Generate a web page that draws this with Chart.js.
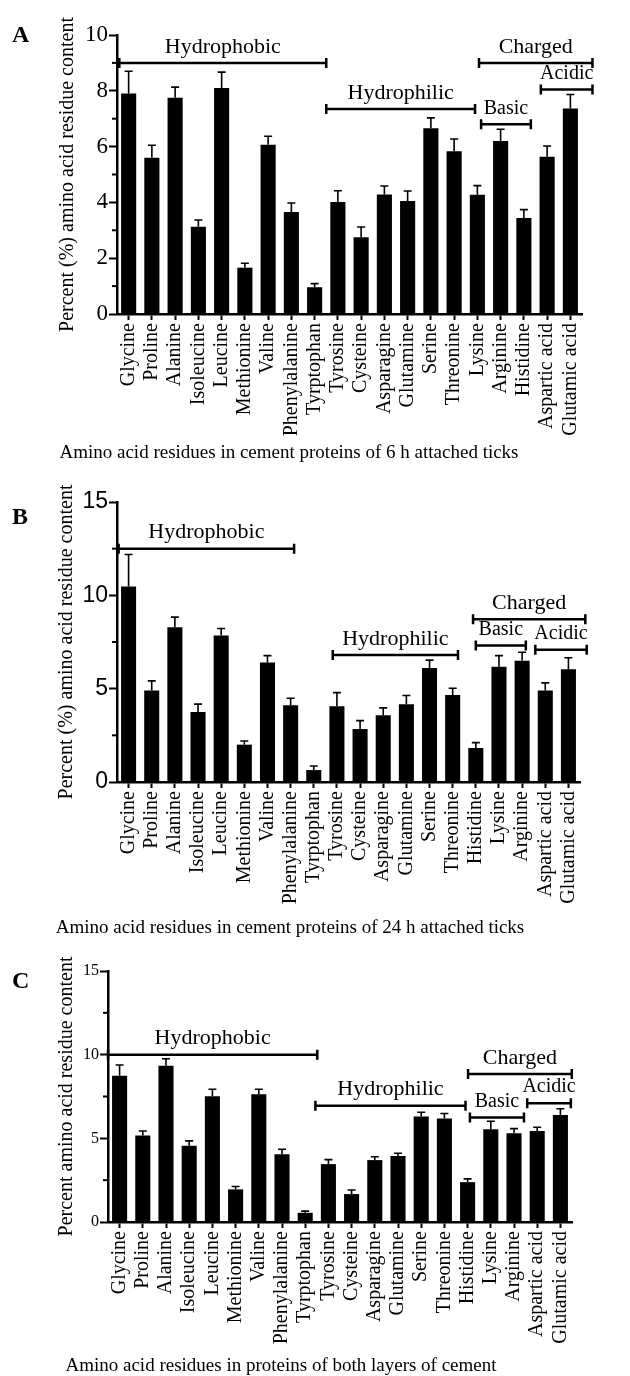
<!DOCTYPE html>
<html>
<head>
<meta charset="utf-8">
<script src="https://cdn.jsdelivr.net/npm/chart.js@4.4.1/dist/chart.umd.min.js"></script>
<style>
    body { margin: 0; background: #fff; width: 630px; height: 1376px; position: relative; overflow: hidden; }
    .panel { position: absolute; left: 0; width: 630px; }
    .letter { position: absolute; font: bold 24px "Liberation Serif", serif; line-height: 1; }
    .caption { position: absolute; font: 19px "Liberation Serif", serif; line-height: 1; white-space: nowrap; transform: translateX(-50%); }
</style>
</head>
<body>
<div class="panel" style="top:0;height:470px"><canvas id="chartA"></canvas></div>
<div class="panel" style="top:470px;height:470px"><canvas id="chartB"></canvas></div>
<div class="panel" style="top:940px;height:436px"><canvas id="chartC"></canvas></div>

<div class="letter" style="left:12px;top:22px">A</div>
<div class="letter" style="left:12px;top:504px">B</div>
<div class="letter" style="left:12px;top:968px">C</div>

<div class="caption" style="left:289px;top:442px">Amino acid residues in cement proteins of 6 h attached ticks</div>
<div class="caption" style="left:290px;top:917px">Amino acid residues in cement proteins of 24 h attached ticks</div>
<div class="caption" style="left:281px;top:1355px">Amino acid residues in proteins of both layers of cement</div>

<script>
// categories
const labelsA = ['Glycine', 'Proline', 'Alanine', 'Isoleucine', 'Leucine', 'Methionine', 'Valine',
    'Phenylalanine', 'Tyrptophan', 'Tyrosine', 'Cysteine', 'Asparagine', 'Glutamine', 'Serine',
    'Threonine', 'Lysine', 'Arginine', 'Histidine', 'Aspartic acid', 'Glutamic acid'];
const labelsBC = ['Glycine', 'Proline', 'Alanine', 'Isoleucine', 'Leucine', 'Methionine', 'Valine',
    'Phenylalanine', 'Tyrptophan', 'Tyrosine', 'Cysteine', 'Asparagine', 'Glutamine', 'Serine',
    'Threonine', 'Histidine', 'Lysine', 'Arginine', 'Aspartic acid', 'Glutamic acid'];

// A: 6 h attached ticks
const valuesA = [7.9, 5.6, 7.75, 3.13, 8.1, 1.66, 6.07, 3.66, 0.96, 4.01, 2.75, 4.28, 4.05, 6.66, 5.83, 4.27, 6.2, 3.44, 5.64, 7.37];
const errorsA = [0.8, 0.45, 0.38, 0.24, 0.57, 0.16, 0.3, 0.32, 0.13, 0.41, 0.37, 0.31, 0.36, 0.37, 0.44, 0.33, 0.42, 0.3, 0.38, 0.5];

// B: 24 h attached ticks
const valuesB = [10.47, 4.9, 8.29, 3.75, 7.85, 2.0, 6.4, 4.11, 0.64, 4.06, 2.84, 3.58, 4.17, 6.11, 4.66, 1.82, 6.18, 6.49, 4.9, 6.04];
const errorsB = [1.72, 0.52, 0.54, 0.42, 0.37, 0.2, 0.37, 0.38, 0.22, 0.73, 0.45, 0.39, 0.46, 0.42, 0.36, 0.29, 0.59, 0.46, 0.41, 0.62];

// C: both layers of cement
const valuesC = [8.74, 5.17, 9.34, 4.55, 7.51, 1.95, 7.63, 4.05, 0.55, 3.46, 1.67, 3.7, 3.94, 6.3, 6.18, 2.38, 5.55, 5.31, 5.44, 6.4];
const errorsC = [0.64, 0.27, 0.42, 0.3, 0.42, 0.17, 0.3, 0.3, 0.1, 0.27, 0.24, 0.2, 0.17, 0.26, 0.3, 0.2, 0.47, 0.27, 0.22, 0.37];

// group brackets (category index from/to, value level)
const groupNames = ['Hydrophobic', 'Hydrophilic', 'Charged', 'Basic', 'Acidic'];
const groupFromA = [-0.4, 8.5, 15.07, 15.16, 17.73];
const groupToA = [8.5, 14.9, 19.95, 17.3, 19.95];
const groupLevelA = [9.0, 7.35, 9.0, 6.8, 8.05];
const groupFromB = [-0.43, 8.82, 14.88, 15.0, 17.57];
const groupToB = [7.15, 14.23, 19.73, 17.16, 19.79];
const groupLevelB = [12.5, 6.81, 8.72, 7.31, 7.08];
const groupFromC = [-0.5, 8.44, 15.02, 15.1, 17.57];
const groupToC = [8.52, 14.91, 19.49, 17.43, 19.45];
const groupLevelC = [10.0, 6.95, 8.84, 6.24, 7.1];

const serif = '"Liberation Serif", "Times New Roman", serif';
const sans = '"Liberation Sans", Arial, sans-serif';

function makeChart(cfg) {
    const extras = {
        id: 'extras_' + cfg.id,
        afterDatasetsDraw(chart) {
            const ctx = chart.ctx;
            const xs = chart.scales.x;
            const ys = chart.scales.y;
            const meta = chart.getDatasetMeta(0);
            ctx.save();
            ctx.strokeStyle = '#000';
            ctx.fillStyle = '#000';

            // error bars (upper only)
            ctx.lineWidth = 1.6;
            cfg.errors.forEach((e, i) => {
                const bar = meta.data[i];
                const top = ys.getPixelForValue(cfg.values[i] + e);
                ctx.beginPath();
                ctx.moveTo(bar.x, bar.y);
                ctx.lineTo(bar.x, top);
                ctx.moveTo(bar.x - 4, top);
                ctx.lineTo(bar.x + 4, top);
                ctx.stroke();
            });

            // minor ticks on the y axis
            ctx.lineWidth = 2;
            for (let v = cfg.minorStep; v < cfg.max; v += cfg.minorStep) {
                if (Math.abs(v / cfg.step - Math.round(v / cfg.step)) < 1e-6) continue;
                const py = ys.getPixelForValue(v);
                ctx.beginPath();
                ctx.moveTo(xs.left, py);
                ctx.lineTo(xs.left - 5, py);
                ctx.stroke();
            }

            // group brackets
            ctx.lineWidth = 2.5;
            ctx.textAlign = 'center';
            ctx.textBaseline = 'middle';
            groupNames.forEach((name, i) => {
                const x1 = xs.getPixelForValue(cfg.from[i]);
                const x2 = xs.getPixelForValue(cfg.to[i]);
                const py = ys.getPixelForValue(cfg.level[i]);
                ctx.beginPath();
                ctx.moveTo(x1, py);
                ctx.lineTo(x2, py);
                ctx.moveTo(x1, py - 5);
                ctx.lineTo(x1, py + 5);
                ctx.moveTo(x2, py - 5);
                ctx.lineTo(x2, py + 5);
                ctx.stroke();
                const size = (name === 'Basic' || name === 'Acidic') ? 20 : 22;
                ctx.font = size + 'px ' + serif;
                ctx.fillText(name, (x1 + x2) / 2, py - 16);
            });
            ctx.restore();
        }
    };

    return new Chart(document.getElementById(cfg.id), {
        type: 'bar',
        data: {
            labels: cfg.labels,
            datasets: [{
                data: cfg.values,
                backgroundColor: '#000',
                borderWidth: 0,
                barPercentage: 0.65,
                categoryPercentage: 1
            }]
        },
        options: {
            responsive: true,
            maintainAspectRatio: false,
            animation: false,
            layout: {
                padding: { left: cfg.padLeft, top: cfg.top, right: 630 - cfg.right, bottom: 0 }
            },
            plugins: {
                legend: { display: false },
                tooltip: { enabled: false }
            },
            scales: {
                x: {
                    offset: true,
                    grid: { offset: false, drawOnChartArea: false, tickLength: 6, tickWidth: 2, tickColor: '#000' },
                    border: { color: '#000', width: 2.5 },
                    ticks: {
                        autoSkip: false, minRotation: 90, maxRotation: 90, padding: 3,
                        color: '#000', font: { family: serif, size: 20 }
                    },
                    afterFit(s) { s.height = cfg.height - cfg.bottom; }
                },
                y: {
                    min: 0,
                    max: cfg.max,
                    grid: { drawOnChartArea: false, tickLength: 8, tickWidth: 2, tickColor: '#000' },
                    border: { color: '#000', width: 2.5 },
                    ticks: {
                        stepSize: cfg.step, padding: 1, color: '#000',
                        font: { family: cfg.tickFamily, size: cfg.tickSize }
                    },
                    title: {
                        display: true, text: cfg.yTitle, color: '#000', padding: 0,
                        font: { family: serif, size: 20 }
                    },
                    afterFit(s) { s.width = cfg.left - cfg.padLeft; }
                }
            }
        },
        plugins: [extras]
    });
}

makeChart({
    id: 'chartA', labels: labelsA, values: valuesA, errors: errorsA,
    from: groupFromA, to: groupToA, level: groupLevelA,
    max: 10, step: 2, minorStep: 1, tickFamily: serif, tickSize: 23,
    yTitle: 'Percent (%) amino acid residue content',
    height: 470, top: 35, bottom: 314, left: 117, right: 582, padLeft: 56
});

makeChart({
    id: 'chartB', labels: labelsBC, values: valuesB, errors: errorsB,
    from: groupFromB, to: groupToB, level: groupLevelB,
    max: 15, step: 5, minorStep: 2.5, tickFamily: sans, tickSize: 23,
    yTitle: 'Percent (%) amino acid residue content',
    height: 470, top: 32, bottom: 312, left: 117, right: 580, padLeft: 55
});

makeChart({
    id: 'chartC', labels: labelsBC, values: valuesC, errors: errorsC,
    from: groupFromC, to: groupToC, level: groupLevelC,
    max: 15, step: 5, minorStep: 2.5, tickFamily: serif, tickSize: 16,
    yTitle: 'Percent amino acid residue content',
    height: 436, top: 31, bottom: 282, left: 108, right: 572, padLeft: 55
});
</script>
</body>
</html>
